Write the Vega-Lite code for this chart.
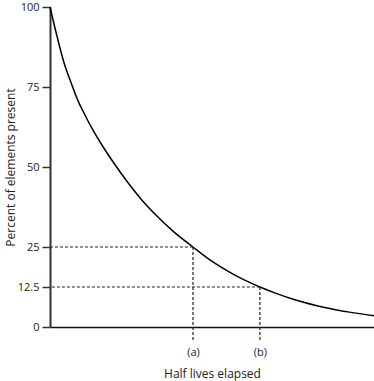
{
  "$schema": "https://vega.github.io/schema/vega-lite/v6.json",
  "width": 324,
  "height": 320,
  "autosize": {"type": "none"},
  "padding": {"left": 50, "top": 7, "right": 0, "bottom": 54},
  "background": "white",
  "config": {
    "view": {"stroke": null},
    "font": "Open Sans",
    "axis": {"grid": false, "labelFont": "Open Sans", "titleFont": "Open Sans", "labelColor": "#222", "titleColor": "#222", "titleFontWeight": "normal", "labelFontSize": 11, "titleFontSize": 12}
  },
  "datasets": {
    "curve": [
      {"x": 0, "y": 100},
      {"x": 0.1, "y": 90.8},
      {"x": 0.2, "y": 82.5},
      {"x": 0.3, "y": 76.3},
      {"x": 0.4, "y": 70.6},
      {"x": 0.5, "y": 66.1},
      {"x": 0.6, "y": 61.9},
      {"x": 0.75, "y": 56.4},
      {"x": 0.923, "y": 50.7},
      {"x": 1.1, "y": 45.3},
      {"x": 1.3, "y": 39.8},
      {"x": 1.5, "y": 35.1},
      {"x": 1.75, "y": 29.9},
      {"x": 2.03, "y": 25.0},
      {"x": 2.25, "y": 21.3},
      {"x": 2.5, "y": 17.8},
      {"x": 2.75, "y": 14.8},
      {"x": 2.98, "y": 12.5},
      {"x": 3.2, "y": 10.6},
      {"x": 3.5, "y": 8.35},
      {"x": 3.9, "y": 6.1},
      {"x": 4.25, "y": 4.65},
      {"x": 4.6, "y": 3.5}
    ],
    "guides": [
      {"label": "(a)", "x": 2.03, "y": 25},
      {"label": "(b)", "x": 2.98, "y": 12.5}
    ]
  },
  "layer": [
    {
      "data": {"name": "curve"},
      "mark": {"type": "line", "interpolate": "monotone", "color": "#000", "strokeWidth": 1.5},
      "encoding": {
        "x": {
          "field": "x", "type": "quantitative",
          "scale": {"domain": [0, 4.6], "nice": false, "zero": false},
          "axis": {
            "title": "Half lives elapsed",
            "values": [2.03, 2.98],
            "labelExpr": "datum.value < 2.5 ? '(a)' : '(b)'",
            "tickSize": 0,
            "labelPadding": 19,
            "domainColor": "#111",
            "domainWidth": 1.5,
            "titleX": 162,
            "titleY": 46,
            "titleBaseline": "middle"
          }
        },
        "y": {
          "field": "y", "type": "quantitative",
          "scale": {"domain": [0, 100], "nice": false},
          "axis": {
            "title": "Percent of elements present",
            "values": [0, 12.5, 25, 50, 75, 100],
            "labelExpr": "'' + datum.value",
            "tickSize": 8,
            "tickWidth": 1.5,
            "tickColor": "#333",
            "labelPadding": 3,
            "domainColor": "#333",
            "domainWidth": 2,
            "titleX": -40,
            "titleY": 160,
            "titleAngle": -90,
            "titleBaseline": "middle",
            "titleAlign": "center"
          }
        }
      }
    },
    {
      "data": {"name": "guides"},
      "mark": {"type": "rule", "strokeDash": [3, 2], "strokeWidth": 1.2, "color": "#222"},
      "encoding": {
        "x": {"field": "x", "type": "quantitative"},
        "x2": {"datum": 0},
        "y": {"field": "y", "type": "quantitative"}
      }
    },
    {
      "data": {"name": "guides"},
      "mark": {"type": "rule", "strokeDash": [3, 2], "strokeWidth": 1.2, "color": "#222"},
      "encoding": {
        "x": {"field": "x", "type": "quantitative"},
        "y": {"field": "y", "type": "quantitative"},
        "y2": {"datum": -4.7}
      }
    }
  ]
}
